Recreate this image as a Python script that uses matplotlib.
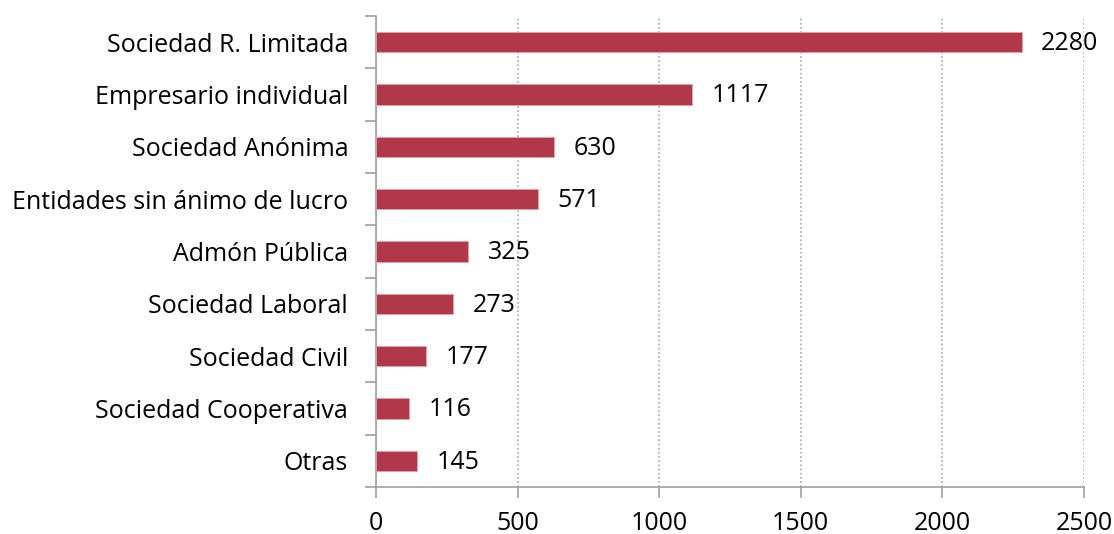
import numpy as np
from matplotlib import pyplot as plt

categories = ["Sociedad R. Limitada", "Empresario individual", "Sociedad Anónima",
              "Entidades sin ánimo de lucro", "Admón Pública", "Sociedad Laboral",
              "Sociedad Civil", "Sociedad Cooperativa", "Otras"]
values = [2280, 1117, 630, 571, 325, 273, 177, 116, 145]

plt.rcParams['font.family'] = ['Open Sans', 'DejaVu Sans']

fig = plt.figure(figsize=(11.14, 5.34), dpi=100)
ax = fig.add_axes([0.3375, 0.088, 0.6355, 0.882])

y = np.arange(len(categories))
ax.barh(y, values, height=0.39, color='#b03848', edgecolor='#e8a0aa', linewidth=0.6, zorder=3)

for yi, v in zip(y, values):
    ax.annotate(str(v), (v, yi), xytext=(14, -1), textcoords='offset points',
                va='center', ha='left', fontsize=18, color='black')

ax.set_xlim(0, 2500)
ax.set_ylim(len(categories) - 0.5, -0.5)
ax.set_xticks([0, 500, 1000, 1500, 2000, 2500])
ax.set_yticks(y)
ax.set_yticklabels(categories)
ax.set_yticks(np.arange(len(categories) + 1) - 0.5, minor=True)

ax.tick_params(axis='y', which='major', length=0, labelsize=18, pad=20)
ax.tick_params(axis='y', which='minor', length=8, color='#a0a0a0', width=1.2)
ax.tick_params(axis='x', length=8, color='#a0a0a0', width=1.2, labelsize=18, pad=9)

ax.grid(axis='x', linestyle=(0, (1, 1.5)), color='#a8a8a8', linewidth=1.2, zorder=0)

for s in ['top', 'right']:
    ax.spines[s].set_visible(False)
for s in ['left', 'bottom']:
    ax.spines[s].set_color('#a0a0a0')
    ax.spines[s].set_linewidth(1.2)

fig.savefig('out.png', dpi=100)
